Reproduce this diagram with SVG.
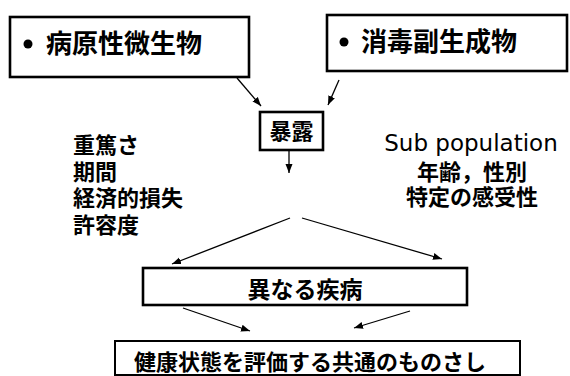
<svg xmlns="http://www.w3.org/2000/svg" width="570" height="376" viewBox="0 0 570 376">
<style>
  .box{fill:#fff;stroke:#000;stroke-width:2.6}
  .box2{fill:#fff;stroke:#000;stroke-width:2}
  .jp{font-family:"Noto Sans CJK JP","Noto Sans CJK SC",sans-serif;font-weight:700;fill:#000}
  .en{font-family:"DejaVu Sans","Liberation Sans",sans-serif;fill:#000}
  .conn line{stroke:#000;stroke-width:1.3;marker-end:url(#ah)}
</style>
<defs>
  <marker id="ah" markerUnits="userSpaceOnUse" markerWidth="10" markerHeight="8" refX="9" refY="4" orient="auto">
    <path d="M0,0.5 L9,4 L0,7.5 Z" fill="#000"/>
  </marker>
</defs>
<rect width="570" height="376" fill="#fff"/>
<g id="node-pathogen">
  <rect class="box" x="10" y="17" width="239" height="60"/>
  <circle cx="28" cy="44" r="4.5" fill="#000"/>
  <text class="jp" x="46" y="53" font-size="26">病原性微生物</text>
</g>
<g id="node-dbp">
  <rect class="box" x="327" y="15" width="240" height="56"/>
  <circle cx="344" cy="42" r="4.5" fill="#000"/>
  <text class="jp" x="361" y="51" font-size="26">消毒副生成物</text>
</g>
<g id="node-exposure">
  <rect class="box" x="260" y="112" width="63" height="38"/>
  <text class="jp" x="291.5" y="139" font-size="22" text-anchor="middle">暴露</text>
</g>
<g id="node-left-factors">
  <text class="jp" x="73" y="153" font-size="22">重篤さ</text>
  <text class="jp" x="73" y="180" font-size="22">期間</text>
  <text class="jp" x="73" y="206" font-size="22">経済的損失</text>
  <text class="jp" x="73" y="233" font-size="22">許容度</text>
</g>
<g id="node-subpopulation">
  <text class="en" x="471" y="151" font-size="23" text-anchor="middle">Sub population</text>
  <text class="jp" x="472" y="180" font-size="22" text-anchor="middle">年齢，性別</text>
  <text class="jp" x="472" y="205" font-size="22" text-anchor="middle">特定の感受性</text>
</g>
<g id="node-disease">
  <rect class="box" x="143" y="268" width="324" height="37"/>
  <text class="jp" x="305" y="298" font-size="23" text-anchor="middle">異なる疾病</text>
</g>
<g id="node-measure">
  <rect class="box2" x="115" y="341" width="405" height="34"/>
  <text class="jp" x="310" y="370" font-size="22" text-anchor="middle">健康状態を評価する共通のものさし</text>
</g>
<g id="connectors" class="conn">
  <line x1="237" y1="78" x2="261" y2="106"/>
  <line x1="339" y1="80" x2="328" y2="105"/>
  <line x1="289" y1="150" x2="289" y2="173"/>
  <line x1="290" y1="218" x2="172" y2="264"/>
  <line x1="302" y1="218" x2="442" y2="259"/>
  <line x1="183" y1="308" x2="250" y2="331"/>
  <line x1="410" y1="311" x2="354" y2="328"/>
</g>
</svg>
